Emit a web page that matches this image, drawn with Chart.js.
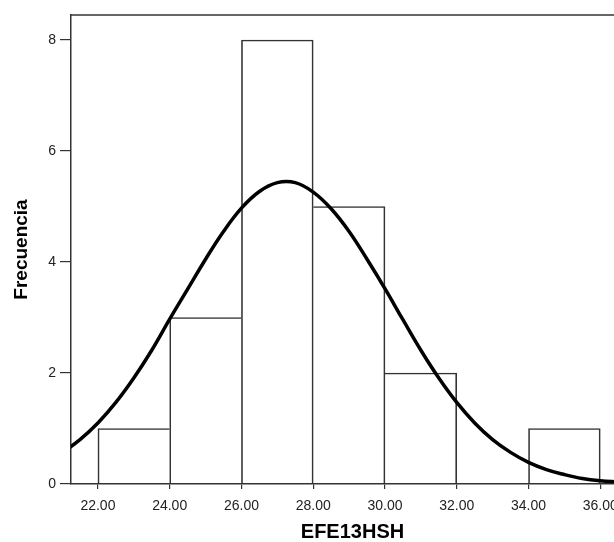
<!DOCTYPE html>
<html>
<head>
<meta charset="utf-8">
<script src="https://cdn.jsdelivr.net/npm/chart.js@4"></script>
<style>
  html, body { margin: 0; padding: 0; background: #fff; overflow: hidden; }
  #wrap { width: 614px; height: 542px; overflow: hidden; }
</style>
</head>
<body>
<div id="wrap"><canvas id="hist" width="660" height="542"></canvas></div>
<script>
// Histograma EFE13HSH con curva normal
// centros de las clases (ancho 2) y frecuencias
const binCenters = [23, 25, 27, 29, 31, 33, 35];
const frecuencias = [1, 3, 8, 5, 2, null, 1];

// curva normal
const curvaX = [21.0, 21.5, 22.0, 22.5, 23.0, 23.5, 24.0, 24.5, 25.0, 25.5, 26.0, 26.5,
  27.0, 27.5, 28.0, 28.5, 29.0, 29.5, 30.0, 30.5, 31.0, 31.5, 32.0, 32.5, 33.0, 33.5,
  34.0, 34.5, 35.0, 35.5, 36.0, 36.5, 37.0];
const curvaY = [0.56, 0.80, 1.10, 1.47, 1.91, 2.41, 2.97, 3.51, 4.05, 4.55, 4.97, 5.27,
  5.43, 5.43, 5.26, 4.96, 4.55, 4.05, 3.52, 2.96, 2.41, 1.91, 1.47, 1.10, 0.80, 0.57,
  0.39, 0.26, 0.17, 0.10, 0.06, 0.04, 0.02];

const xTicks = [22, 24, 26, 28, 30, 32, 34, 36];
const yTicks = [0, 2, 4, 6, 8];

const fontFam = '"Liberation Sans", Arial, sans-serif';

// el borde compartido entre dos barras lo dibuja la mas alta
function bordeBarra(c) {
  const i = c.dataIndex;
  const v = frecuencias[i] || 0;
  const prev = i > 0 ? (frecuencias[i - 1] || 0) : 0;
  const next = i < frecuencias.length - 1 ? (frecuencias[i + 1] || 0) : 0;
  return {
    top: 1,
    bottom: 0,
    left: prev > v ? 0 : 1,
    right: next >= v && next > 0 ? 0 : 1
  };
}

// linea superior del marco
const marcoSuperior = {
  id: 'marcoSuperior',
  afterDraw(chart) {
    const {ctx, chartArea} = chart;
    ctx.save();
    ctx.strokeStyle = '#333';
    ctx.lineWidth = 1.5;
    ctx.beginPath();
    ctx.moveTo(chartArea.left, chartArea.top);
    ctx.lineTo(chart.width, chartArea.top);
    ctx.stroke();
    ctx.restore();
  }
};

const ctxHist = document.getElementById('hist').getContext('2d');
const chartHist = new Chart(ctxHist, {
  type: 'bar',
  data: {
    datasets: [
      {
        type: 'line',
        label: 'Normal',
        data: curvaX.map((x, i) => ({x: x, y: curvaY[i]})),
        borderColor: '#000',
        borderWidth: 3.5,
        pointRadius: 0,
        tension: 0.4,
        fill: false,
        order: 0
      },
      {
        type: 'bar',
        label: 'Frecuencia',
        data: binCenters.map((x, i) => ({x: x, y: frecuencias[i]})),
        backgroundColor: 'rgba(255,255,255,0)',
        borderColor: '#333',
        borderWidth: bordeBarra,
        borderSkipped: false,
        barPercentage: 1,
        categoryPercentage: 1,
        grouped: false,
        order: 1
      }
    ]
  },
  options: {
    responsive: false,
    animation: false,
    devicePixelRatio: 1,
    layout: { padding: { top: 15, right: 26, left: 0, bottom: 0 } },
    plugins: {
      legend: { display: false },
      tooltip: { enabled: false }
    },
    scales: {
      x: {
        type: 'linear',
        offset: false,
        min: 21.25,
        max: 36.94,
        afterBuildTicks: (scale) => { scale.ticks = xTicks.map(v => ({value: v})); },
        afterFit: (scale) => { scale.height = 58; },
        ticks: {
          callback: (v) => Number(v).toFixed(2),
          color: '#222',
          font: { family: fontFam, size: 14 },
          padding: 9,
          maxRotation: 0,
          autoSkip: false
        },
        grid: { display: true, offset: false, drawOnChartArea: false, tickLength: 5, color: '#333', lineWidth: 1.2 },
        border: { display: true, color: '#333', width: 1.5 },
        title: {
          display: true,
          text: 'EFE13HSH',
          color: '#000',
          font: { family: fontFam, size: 20, weight: 'bold', lineHeight: 1 },
          padding: { top: -1, bottom: 0 }
        }
      },
      y: {
        min: 0,
        max: 8.45,
        afterBuildTicks: (scale) => { scale.ticks = yTicks.map(v => ({value: v})); },
        afterFit: (scale) => { scale.width = 71; },
        ticks: {
          color: '#222',
          font: { family: fontFam, size: 14 },
          padding: 4
        },
        grid: { display: true, offset: false, drawOnChartArea: false, tickLength: 11, color: '#333', lineWidth: 1.2 },
        border: { display: true, color: '#333', width: 1.5 },
        title: {
          display: true,
          text: 'Frecuencia',
          color: '#000',
          font: { family: fontFam, size: 19, weight: 'bold', lineHeight: 1.2 },
          padding: { top: 10, bottom: 0 }
        }
      }
    }
  },
  plugins: [marcoSuperior]
});
</script>
</body>
</html>
